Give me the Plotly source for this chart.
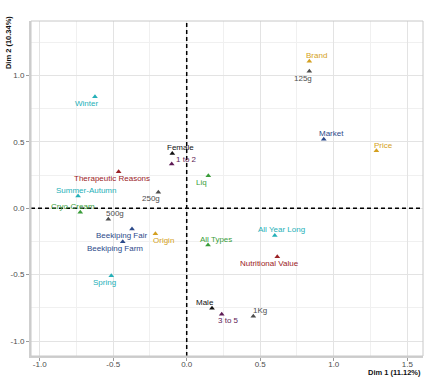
import plotly.graph_objects as go

# ---- data ----
labels = ["Winter", "Brand", "125g", "Market", "Price", "Female", "1 to 2",
          "Therapeutic Reasons", "Liq", "Summer-Autumn", "250g", "Cryo-Cream",
          "500g", "Beekiping Fair", "Beekiping Farm", "Origin", "All Types",
          "All Year Long", "Nutritional Value", "Spring", "Male", "3 to 5", "1Kg"]
dim1 = [-0.624, 0.834, 0.834, 0.932, 1.290, -0.098, -0.102,
        -0.463, 0.147, -0.739, -0.193, -0.724,
        -0.533, -0.372, -0.435, -0.213, 0.145,
        0.599, 0.616, -0.513, 0.172, 0.238, 0.453]
dim2 = [0.841, 1.108, 1.032, 0.520, 0.434, 0.412, 0.334,
        0.276, 0.246, 0.093, 0.121, -0.030,
        -0.083, -0.156, -0.252, -0.191, -0.277,
        -0.206, -0.365, -0.508, -0.754, -0.799, -0.814]
groups = ["season", "reason", "size", "place", "reason", "sex", "amount",
          "motive", "type", "season", "size", "type",
          "size", "place", "place", "reason", "type",
          "season", "motive", "season", "sex", "amount", "size"]
x_ticks = [-1.0, -0.5, 0.0, 0.5, 1.0, 1.5]
y_ticks = [-1.0, -0.5, 0.0, 0.5, 1.0]

# ---- styles ----
group_colors = {
    "season": "#25B0B8",
    "reason": "#D4A020",
    "size": "#4D4D4D",
    "place": "#2C4A8A",
    "sex": "#111111",
    "amount": "#5E1A55",
    "motive": "#9B2226",
    "type": "#3A9D3A",
}
# label offsets in pixels (dx right, dy down) as placed by the repel layout
label_shift = [(-8, 6.5), (7.5, -5.6), (-6.6, 7.4), (7.6, -5.6), (7, -5.4), (7.7, -5.7), (14.3, -4),
               (-7, 6.6), (-7, 7), (7.7, -5.3), (-7.3, 6.7), (-7, -5.6),
               (7, -5.6), (-10.3, 6.3), (-7.7, 6.6), (8, 6.6), (7.7, -5.3),
               (7, -5.7), (-7.3, 6.3), (-7, 6.6), (-7.3, -5.6), (6.6, 6.4), (7, -6)]

FONT = "Liberation Sans, Arial, sans-serif"
colors = [group_colors[g] for g in groups]

fig = go.Figure()
fig.add_trace(go.Scatter(
    x=dim1, y=dim2, mode="markers",
    marker=dict(symbol="triangle-up", size=5, color=colors),
    hovertext=labels, showlegend=False,
))

for lab, xv, yv, c, (dx, dy) in zip(labels, dim1, dim2, colors, label_shift):
    fig.add_annotation(x=xv, y=yv, text=lab, showarrow=False,
                       xshift=dx, yshift=-dy, xanchor="center", yanchor="middle",
                       font=dict(family=FONT, size=8, color=c))

# dashed reference lines
fig.add_shape(type="line", xref="x", yref="paper", x0=0, x1=0, y0=0, y1=1,
              line=dict(color="black", width=1.5, dash="4px,3px"), layer="above")
fig.add_shape(type="line", xref="paper", yref="y", x0=0, x1=1, y0=0, y1=0,
              line=dict(color="black", width=1.5, dash="4px,3px"), layer="above")
# panel border
fig.add_shape(type="rect", xref="paper", yref="paper", x0=0, x1=1, y0=0, y1=1,
              line=dict(color="#C8C8C8", width=1), layer="above")

axis_common = dict(
    showgrid=True, gridcolor="#E3E3E3", gridwidth=1, automargin=False,
    zeroline=False, showline=True, linecolor="#CFCFCF", linewidth=2,
    ticks="outside", ticklen=3, tickcolor="#9A9A9A", tickwidth=1,
    tickfont=dict(family=FONT, size=8, color="#4D4D4D"),
)
fig.update_xaxes(range=[-1.059, 1.607], tickvals=x_ticks,
                 ticktext=[f"{v:.1f}" for v in x_ticks], ticklabelstandoff=-4,
                 minor=dict(dtick=0.25, tick0=0.25, showgrid=True, gridcolor="#F0F0F0", gridwidth=0.6),
                 **axis_common)
fig.update_yaxes(range=[-1.113, 1.411], tickvals=y_ticks,
                 ticktext=[f"{v:.1f}" for v in y_ticks],
                 minor=dict(dtick=0.25, tick0=0.25, showgrid=True, gridcolor="#F0F0F0", gridwidth=0.6),
                 **axis_common)

fig.add_annotation(xref="paper", yref="paper", x=-0.0587, y=0.937, text="<b>Dim 2 (10.34%)</b>",
                   textangle=-90, showarrow=False, xanchor="center", yanchor="middle",
                   font=dict(family=FONT, size=7.5, color="#111111"))
fig.add_annotation(xref="paper", yref="paper", x=1.0, y=-0.05, text="<b>Dim 1 (11.12%)</b>",
                   showarrow=False, xanchor="right", yanchor="middle",
                   font=dict(family=FONT, size=7.5, color="#111111"))

fig.update_layout(
    width=429, height=386,
    margin=dict(l=31, r=6, t=21, b=30),
    paper_bgcolor="white", plot_bgcolor="white",
    font=dict(family=FONT),
)

fig.write_html("out.html", config={"displayModeBar": False},
               post_script="document.body.style.margin='0';document.body.style.padding='0';")
